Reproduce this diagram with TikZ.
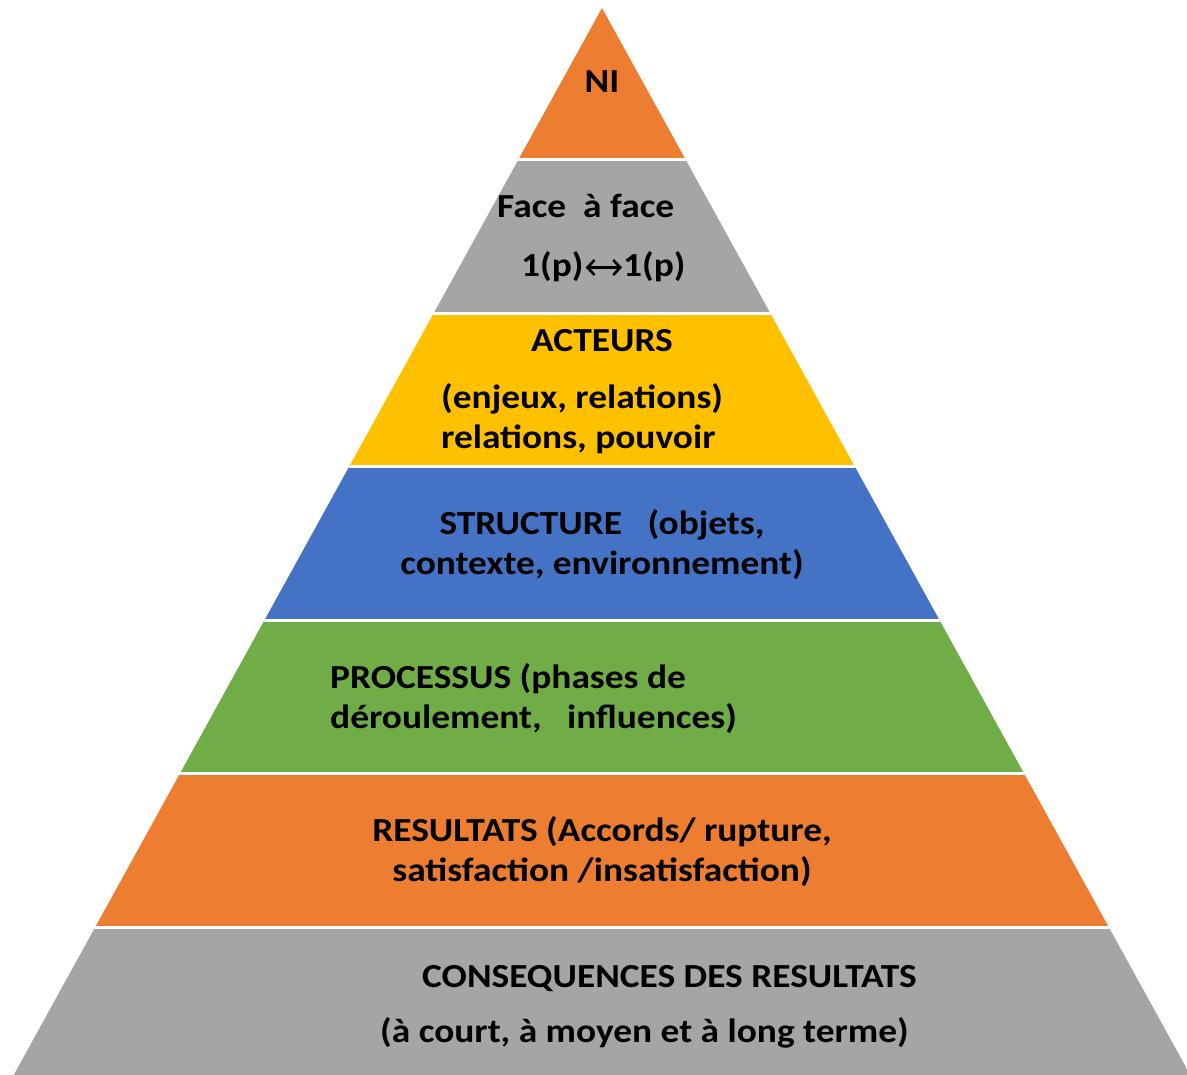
\documentclass[tikz,border=0pt]{standalone}
\usepackage{fontspec}
\setmainfont{Carlito}
\usepackage{graphicx}
\usetikzlibrary{arrows.meta}
\definecolor{pyOrange}{HTML}{ED7D31}
\definecolor{pyGray}{HTML}{A5A5A5}
\definecolor{pyYellow}{HTML}{FFC000}
\definecolor{pyBlue}{HTML}{4472C4}
\definecolor{pyGreen}{HTML}{70AD47}
% slightly condensed-height lettering
\newcommand{\sq}[1]{\scalebox{1}[0.9]{#1}}
\begin{document}
\begin{tikzpicture}[x=1pt,y=-1pt,
  lbl/.style={font=\fontsize{37.4}{40}\selectfont\bfseries, inner sep=0pt, text=black},
  gap/.style={white, line width=3pt},
  twoway/.style={line width=2.6pt, line join=round,
    {Straight Barb[length=7pt,width=15pt,line width=2.6pt]}-{Straight Barb[length=7pt,width=15pt,line width=2.6pt]}}]
\useasboundingbox (0,0) rectangle (1187,1075);
% pyramid body, cut into seven bands
\begin{scope}
  \clip (602,8) -- (1190.3,1075) -- (13.7,1075) -- cycle;
  \fill[pyOrange] (0,0)     rectangle (1187,159.5);
  \fill[pyGray]   (0,159.5) rectangle (1187,313.1);
  \fill[pyYellow] (0,313.1) rectangle (1187,466.7);
  \fill[pyBlue]   (0,466.7) rectangle (1187,620.3);
  \fill[pyGreen]  (0,620.3) rectangle (1187,773.9);
  \fill[pyOrange] (0,773.9) rectangle (1187,927.5);
  \fill[pyGray]   (0,927.5) rectangle (1187,1075);
  \foreach \y in {159.5,313.1,466.7,620.3,773.9,927.5}
    \draw[gap] (0,\y) -- (1187,\y);
\end{scope}
% labels
\node[lbl, anchor=base] (ni) at (602,93) {\sq{NI}};
\node[lbl, anchor=base west] (face) at (497,218) {\sq{Face~~à face}};
\node[lbl, anchor=base west] (pA) at (521,277) {\sq{1(p)}};
\node[lbl, anchor=base west] (pB) at (623,277) {\sq{1(p)}};
\draw[twoway] ([xshift=2pt,yshift=9.5pt]pA.base east) -- ([xshift=-1pt,yshift=9.5pt]pB.base west);
\node[lbl, anchor=base] (act) at (602,352) {\sq{ACTEURS}};
\node[lbl, anchor=base west] (enj) at (441,409) {\sq{(enjeux, relations)}};
\node[lbl, anchor=base west] (pouv) at (441,449) {\sq{relations, pouvoir}};
\node[lbl, anchor=base] (struc) at (602,534) {\sq{STRUCTURE~~~(objets,}};
\node[lbl, anchor=base] (ctx) at (602,574) {\sq{contexte, environnement)}};
\node[lbl, anchor=base west] (proc) at (330,688) {\sq{PROCESSUS (phases de}};
\node[lbl, anchor=base west] (der) at (330,728) {\sq{déroulement,~~~influences)}};
\node[lbl, anchor=base] (res) at (602,841) {\sq{RESULTATS (Accords/ rupture,}};
\node[lbl, anchor=base] (sat) at (602,881) {\sq{satisfaction /insatisfaction)}};
\node[lbl, anchor=base west] (cons) at (422,987) {\sq{CONSEQUENCES DES RESULTATS}};
\node[lbl, anchor=base west] (terme) at (380,1042) {\sq{(à court, à moyen et à long terme)}};
\end{tikzpicture}
\end{document}
